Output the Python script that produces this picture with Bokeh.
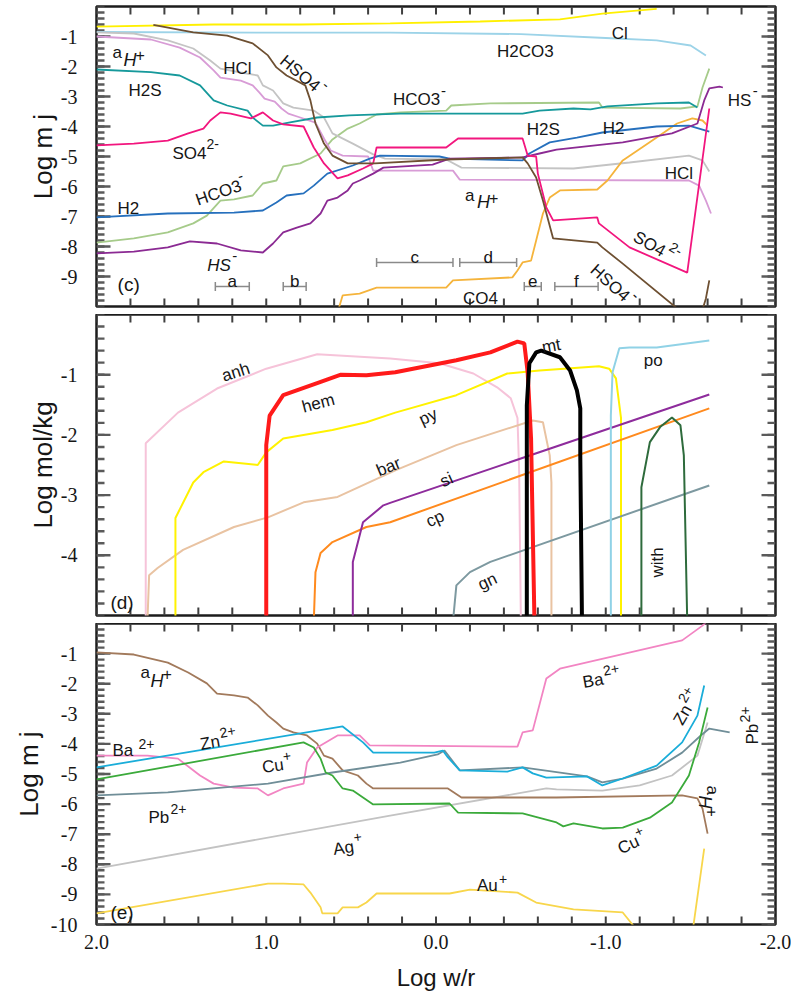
import math
from bokeh.plotting import figure
from bokeh.layouts import column
from bokeh.models import FixedTicker, LinearAxis, NumeralTickFormatter, Range1d
from bokeh.core.properties import value
from bokeh.embed import file_html
from bokeh.resources import INLINE

nan = float("nan")

# ---------------- panel (c): Log m_j of aqueous species ----------------
c_cl_x = [2.0, 1.31, 0.8, 0.27, -0.26, -0.73, -0.98, -1.3]
c_cl_y = [-0.67, -0.6, -0.6, -0.56, -0.5, -0.43, -0.24, -0.08]

c_h2co3_x = [2.0, 1.0, 0.27, -0.5, -1.0, -1.3, -1.5, -1.59]
c_h2co3_y = [-0.85, -0.87, -0.87, -0.92, -1.05, -1.13, -1.3, -1.63]

c_ah_x = [2.0, 1.68, 1.51, 1.39, 1.31, 1.27, 1.15, 1.08, 1.04, 1.01, 0.95, 0.91, 0.87, 0.8, 0.71,
          0.66, 0.62, 0.55, 0.4, 0.37, -0.1, -0.14, -1.49, -1.55, -1.59, -1.62]
c_ah_y = [-1.0, -1.1, -1.37, -1.7, -2.13, -2.37, -2.47, -2.63, -2.87, -3.07, -3.17, -3.4, -3.57, -3.7, -3.87,
          -4.4, -4.8, -4.97, -5.0, -5.47, -5.47, -5.77, -5.8, -5.97, -6.47, -6.9]

c_hcl_x = [2.0, 1.78, 1.58, 1.43, 1.33, 1.27, 1.15, 1.05, 1.02, 0.96, 0.9, 0.84, 0.72, 0.66, 0.61,
           0.49, 0.37, 0.3, -0.06, -0.15, -0.81, -1.14, -1.49, -1.57, -1.61]
c_hcl_y = [-0.86, -0.9, -1.13, -1.4, -1.8, -2.07, -2.2, -2.3, -2.63, -2.8, -3.23, -3.37, -3.47, -3.7, -4.23,
           -4.57, -4.93, -5.07, -5.1, -5.37, -5.4, -5.2, -4.97, -5.13, -5.5]

c_hso4_x = [1.665, 1.43, 1.23, 1.08, 0.99, 0.94, 0.88, 0.77, 0.74, 0.71, 0.66, 0.61, 0.52, 0.36, -0.06,
            -0.51, -0.54, -0.59, -0.63, -0.69, -0.95, -0.98, -1.1, -1.45, nan, -1.565, -1.59, -1.61]
c_hso4_y = [-0.61, -0.86, -0.97, -1.23, -1.63, -2.03, -2.3, -2.63, -3.13, -3.9, -4.57, -4.97, -5.23, -5.23, -5.1,
            -5.03, -5.23, -5.7, -6.47, -7.73, -7.87, -8.03, -8.57, -10.2, nan, -10.2, -9.73, -9.13]

c_h2s_x = [2.0, 1.68, 1.51, 1.39, 1.31, 1.23, 1.11, 1.08, 1.02, 0.96, 0.86, 0.7, 0.51, 0.21, -0.51,
           -0.61, -0.81, -0.91, -1.01, -1.3, -1.49, -1.54]
c_h2s_y = [-2.1, -2.19, -2.3, -2.63, -3.13, -3.3, -3.47, -3.7, -3.97, -3.97, -3.86, -3.7, -3.63, -3.57, -3.57,
           -3.47, -3.4, -3.43, -3.33, -3.23, -3.2, -3.37]

c_so4_x = [2.0, 1.78, 1.58, 1.46, 1.37, 1.33, 1.27, 1.21, 1.09, 1.02, 0.96, 0.9, 0.78, 0.72, 0.66, 0.58,
           0.52, 0.43, 0.37, 0.35, -0.06, -0.13, -0.51, -0.54, -0.59, -0.6, -0.65, -0.69, -0.95, -0.96,
           -1.14, -1.48, -1.61]
c_so4_y = [-4.63, -4.57, -4.47, -4.23, -4.07, -3.8, -3.53, -3.57, -3.73, -3.53, -3.8, -3.93, -4.0, -4.7, -5.23,
           -5.73, -5.63, -5.4, -5.23, -4.7, -4.7, -4.4, -4.4, -4.97, -5.0, -5.57, -6.7, -7.13, -7.03, -7.23,
           -8.03, -8.87, -3.4]

c_hco3_x = [2.0, 1.78, 1.58, 1.43, 1.35, 1.27, 1.19, 1.08, 1.02, 0.94, 0.9, 0.8, 0.68, 0.61, 0.52, 0.45,
            0.35, 0.21, -0.06, -0.09, -0.32, -0.96, -0.98, -1.44, -1.54, -1.57, -1.61]
c_hco3_y = [-7.87, -7.73, -7.53, -7.23, -6.97, -6.47, -6.43, -6.3, -5.9, -5.8, -5.33, -5.23, -4.9, -4.43,
            -4.07, -3.9, -3.6, -3.53, -3.47, -3.3, -3.23, -3.2, -3.37, -3.4, -3.33, -2.7, -2.07]

c_h2_x = [2.0, 1.58, 1.19, 1.02, 0.94, 0.88, 0.78, 0.72, 0.64, 0.49, 0.39, 0.33, -0.02, -0.08, -0.51,
          -0.55, -0.67, -0.83, -0.98, -1.3, -1.49, -1.61]
c_h2_y = [-7.03, -6.9, -6.87, -6.8, -6.53, -6.3, -6.23, -5.97, -5.57, -5.3, -5.07, -4.97, -5.0, -5.07, -5.13,
          -4.9, -4.53, -4.37, -4.2, -4.0, -3.97, -4.17]

c_hs_x = [2.0, 1.78, 1.58, 1.45, 1.29, 1.15, 1.02, 0.96, 0.9, 0.82, 0.74, 0.68, 0.64, 0.58, 0.52, 0.49,
          0.45, 0.37, 0.31, 0.02, -0.08, -0.51, -0.61, -0.71, -1.1, -1.39, -1.54, -1.58, -1.61, -1.67, -1.69]
c_hs_y = [-8.23, -8.17, -8.03, -7.83, -7.9, -8.13, -8.2, -7.9, -7.53, -7.37, -7.23, -6.9, -6.47, -6.37,
          -6.13, -5.9, -5.8, -5.57, -5.37, -5.27, -5.07, -5.03, -4.9, -4.77, -4.53, -4.23, -3.9, -3.13,
          -2.73, -2.67, -2.7]

c_co4_x = [0.58, 0.55, 0.45, 0.35, -0.06, -0.1, -0.45, -0.48, -0.51, -0.56, -0.59, -0.63, -0.67, -0.73,
           -0.95, -1.01, -1.1, -1.3, -1.42, -1.51, -1.57, -1.6]
c_co4_y = [-10.2, -9.63, -9.57, -9.37, -9.37, -9.13, -9.03, -8.8, -8.53, -8.47, -7.8, -6.9, -6.37, -6.13,
           -6.1, -5.8, -5.13, -4.37, -3.9, -3.73, -3.8, -3.97]

interval_names = ["a", "b", "c", "d", "e", "f"]
interval_start = [1.3, 0.9, 0.35, -0.14, -0.52, -0.70]
interval_end = [1.1, 0.765, -0.1, -0.475, -0.62, -0.955]
interval_level = [-9.33, -9.33, -8.53, -8.53, -9.33, -9.33]

# ---------------- panel (d): Log mol/kg of minerals ----------------
d_anh_x = [1.71, 1.71, 1.52, 1.29, 1.0, 0.7, 0.27, -0.02, -0.22, -0.36, -0.44, -0.48, -0.49, -0.5]
d_anh_y = [-5.1, -2.14, -1.63, -1.23, -0.9, -0.66, -0.73, -0.81, -0.98, -1.21, -1.39, -1.72, -2.62, -5.1]

d_hem_x = [1.0, 1.0, 0.98, 0.9, 0.7, 0.56, 0.41, 0.24, -0.12, -0.32, -0.48, -0.52, -0.54, -0.56, -0.58]
d_hem_y = [-5.1, -2.17, -1.68, -1.34, -1.14, -1.0, -1.01, -0.96, -0.76, -0.63, -0.45, -0.48, -0.96, -2.06, -5.1]

d_py_x = [1.535, 1.535, 1.43, 1.37, 1.25, 1.05, 1.0, 0.9, 0.61, 0.41, 0.24, -0.12, -0.42, -0.61, -0.96,
          -1.02, -1.06, -1.09, -1.09]
d_py_y = [-5.1, -3.38, -2.79, -2.62, -2.44, -2.5, -2.29, -2.06, -1.92, -1.79, -1.63, -1.34, -0.98, -0.93,
          -0.86, -0.9, -1.06, -1.72, -5.1]

d_bar_x = [1.7, 1.69, 1.64, 1.49, 1.19, 0.99, 0.78, 0.58, 0.24, -0.12, -0.57, -0.63, -0.67, -0.68, -0.68]
d_bar_y = [-5.1, -4.33, -4.21, -3.91, -3.53, -3.37, -3.12, -3.03, -2.59, -2.17, -1.76, -1.79, -2.34, -2.79, -5.1]

d_si_x = [0.49, 0.49, 0.43, 0.31, 0.27, -1.61]
d_si_y = [-5.1, -4.11, -3.45, -3.17, -3.13, -1.33]

d_cp_x = [0.72, 0.71, 0.68, 0.61, 0.41, 0.27, -1.61]
d_cp_y = [-5.1, -4.28, -3.96, -3.78, -3.53, -3.45, -1.56]

d_gn_x = [-0.1, -0.12, -0.2, -0.32, -1.61]
d_gn_y = [-5.1, -4.5, -4.28, -4.11, -2.84]

d_mt_x = [-0.535, -0.535, -0.55, -0.59, -0.62, -0.73, -0.79, -0.83, -0.85, -0.85, -0.86]
d_mt_y = [-5.1, -1.51, -0.81, -0.63, -0.6, -0.71, -0.93, -1.26, -1.56, -2.34, -5.1]

d_po_x = [-1.03, -1.03, -1.04, -1.08, -1.14, -1.3, -1.61]
d_po_y = [-5.1, -1.68, -0.96, -0.56, -0.55, -0.55, -0.43]

d_with_x = [-1.21, -1.21, -1.26, -1.32, -1.39, -1.44, -1.46, -1.48]
d_with_y = [-5.1, -2.87, -2.12, -1.87, -1.71, -1.84, -2.34, -5.1]

# ---------------- panel (e): Log m_j of metal ions ----------------
e_ah_x = [2.0, 1.78, 1.58, 1.46, 1.35, 1.29, 1.19, 1.11, 1.05, 0.99, 0.94, 0.9, 0.84, 0.76, 0.7, 0.66,
          0.61, 0.55, 0.46, 0.41, 0.37, -0.07, -0.15, -0.71, -1.45, -1.54, -1.57, -1.6]
e_ah_y = [-0.96, -1.03, -1.3, -1.63, -1.99, -2.33, -2.39, -2.46, -2.72, -3.06, -3.29, -3.49, -3.62, -3.72,
          -3.99, -4.39, -4.49, -4.88, -5.05, -5.32, -5.48, -5.48, -5.78, -5.78, -5.71, -5.81, -6.15, -6.98]

e_ba_x = [2.0, 1.7, 1.52, 1.39, 1.31, 1.19, 1.05, 0.99, 0.9, 0.78, 0.76, 0.7, 0.58, 0.45, 0.39, -0.48,
          -0.51, -0.57, -0.65, -0.73, -1.45, -1.57, -1.62]
e_ba_y = [-4.39, -4.39, -4.49, -5.05, -5.32, -5.45, -5.48, -5.71, -5.48, -5.32, -4.62, -4.12, -3.72, -3.72,
          -4.05, -4.09, -3.62, -3.55, -1.83, -1.5, -0.56, -0.07, 0.2]

e_zn_x = [2.0, 0.55, 0.43, 0.37, 0.01, -0.04, -0.07, -0.14, -0.42, -0.51, -0.57, -0.65, -0.89, -0.98,
          -1.1, -1.3, -1.45, -1.54, -1.58]
e_zn_y = [-4.78, -3.42, -3.95, -4.29, -4.29, -4.22, -4.45, -4.88, -4.92, -4.78, -4.98, -5.12, -5.08, -5.38,
          -5.15, -4.72, -3.95, -3.06, -2.06]

e_cu_x = [2.0, 0.78, 0.72, 0.68, 0.65, 0.61, 0.55, 0.49, 0.43, 0.37, -0.08, -0.13, -0.51, -0.71, -0.75,
          -0.81, -0.98, -1.1, -1.26, -1.39, -1.49, -1.55, -1.6]
e_cu_y = [-5.18, -3.95, -4.12, -4.49, -4.95, -5.05, -5.48, -5.55, -5.78, -6.01, -5.98, -6.28, -6.31, -6.61,
          -6.74, -6.64, -6.81, -6.78, -6.45, -5.95, -5.05, -3.95, -2.79]

e_pb_x = [2.0, 1.58, 0.99, 0.61, 0.21, -0.01, -0.05, -0.14, -0.51, -0.89, -0.98, -1.1, -1.3, -1.45,
          -1.56, -1.61, -1.73]
e_pb_y = [-5.71, -5.61, -5.32, -4.95, -4.62, -4.35, -4.22, -4.88, -4.78, -5.08, -5.28, -5.15, -4.82, -4.29,
          -3.72, -3.49, -3.62]

e_ag_x = [2.0, 0.27, -0.65, -0.71, -0.98, -1.2, -1.39, -1.54, -1.6]
e_ag_y = [-8.14, -6.38, -5.48, -5.51, -5.55, -5.38, -5.05, -4.39, -3.29]

e_au_x = [2.0, 0.99, 0.9, 0.78, 0.74, 0.68, 0.67, 0.58, 0.55, 0.46, 0.41, 0.35, -0.08, -0.2, -0.48,
          -0.59, -0.81, -1.1, -1.2, nan, -1.51, -1.58]
e_au_y = [-9.63, -8.64, -8.64, -8.67, -8.94, -9.43, -9.63, -9.63, -9.43, -9.43, -9.27, -8.97, -8.97, -8.84,
          -8.94, -9.27, -9.5, -9.6, -10.3, nan, -10.3, -7.48]

# axis ticks
X_LEFT, X_RIGHT = 2.0, -2.0
x_major = [2.0, 1.0, 0.0, -1.0, -2.0]
x_minor = [round(-2.0 + 0.2 * i, 2) for i in range(21)]
c_y_major = [-1, -2, -3, -4, -5, -6, -7, -8, -9]
d_y_major = [-1, -2, -3, -4]
e_y_major = [-1, -2, -3, -4, -5, -6, -7, -8, -9, -10]
c_y_minor = [round(-10 + 0.2 * i, 2) for i in range(51)]
d_y_minor = [round(-5 + 0.2 * i, 2) for i in range(26)]

# ---------------- styling helpers ----------------
SANS = "Liberation Sans"
SERIF = "Liberation Serif"
TICK_GRAY = "#5a5a5a"
XTICK = "#404040"
TXT = "#161616"
FRAME_W = 679


def bare_axis(ax):
    ax.axis_line_color = None
    ax.major_tick_in = 0
    ax.major_tick_out = 0
    ax.minor_tick_line_color = None
    ax.major_tick_line_color = None
    ax.major_label_text_font = SERIF
    ax.major_label_text_font_size = "20px"
    ax.major_label_text_color = TXT
    ax.axis_label_text_font = SANS
    ax.axis_label_text_font_style = "normal"
    ax.axis_label_text_color = TXT


def inner_ticks(p, ymin, frame_h, y_major, y_minor):
    # tick lengths converted from pixels to data units of the panel
    px_x = (X_LEFT - X_RIGHT) / FRAME_W
    px_y = (0.0 - ymin) / frame_h
    for ticks, ln in ((y_minor, 8), (y_major, 14)):
        n = len(ticks)
        p.segment(x0=[X_LEFT] * n, y0=ticks, x1=[X_LEFT - ln * px_x] * n, y1=ticks,
                  line_color=TICK_GRAY, line_width=2.4)
        p.segment(x0=[X_RIGHT] * n, y0=ticks, x1=[X_RIGHT + ln * px_x] * n, y1=ticks,
                  line_color=TICK_GRAY, line_width=2.4)
    n = len(x_minor)
    p.segment(x0=x_minor, y0=[0.0] * n, x1=x_minor, y1=[-8 * px_y] * n, line_color=XTICK, line_width=2)
    p.segment(x0=x_minor, y0=[ymin] * n, x1=x_minor, y1=[ymin + 8 * px_y] * n, line_color=XTICK,
              line_width=2)


def make_panel(ymin, frame_h, y_major, y_minor, ylabel, top_b, bot_b, lab_standoff, bottom_labels=False):
    p = figure(frame_width=FRAME_W, frame_height=frame_h, x_range=Range1d(X_LEFT, X_RIGHT),
               y_range=Range1d(ymin, 0.0), output_backend="svg", toolbar_location=None,
               x_axis_location=None, y_axis_location=None,
               min_border_left=96, min_border_right=16, min_border_top=top_b, min_border_bottom=bot_b)
    p.xgrid.grid_line_color = None
    p.ygrid.grid_line_color = None
    p.outline_line_color = "#1c1c1c"
    p.outline_line_width = 2.5

    left = LinearAxis(ticker=FixedTicker(ticks=y_major), axis_label=ylabel,
                      formatter=NumeralTickFormatter(format="0"))
    bare_axis(left)
    left.major_label_standoff = 19
    left.axis_label_standoff = lab_standoff
    left.axis_label_text_font_size = "26px"
    p.add_layout(left, "left")

    if bottom_labels:
        bottom = LinearAxis(ticker=FixedTicker(ticks=x_major), axis_label="Log w/r",
                            formatter=NumeralTickFormatter(format="0.0"))
        bare_axis(bottom)
        bottom.major_label_standoff = 10
        bottom.axis_label_standoff = 12
        bottom.axis_label_text_font_size = "24px"
        p.add_layout(bottom, "below")

    inner_ticks(p, ymin, frame_h, y_major, y_minor)
    return p


def add_label(p, x, y, parts, angle=0.0):
    a = math.radians(angle)
    for part in parts:
        txt, dx, dy, size = part[0], part[1], part[2], part[3]
        style = part[4] if len(part) > 4 else "normal"
        ox = dx * math.cos(a) - dy * math.sin(a)
        oy = -(dx * math.sin(a) + dy * math.cos(a))
        p.text(x=[x], y=[y], text=[txt], x_offset=ox, y_offset=oy, angle=a,
               text_font=value(SANS), text_font_size=f"{size}px", text_font_style=style,
               text_align="left", text_baseline="alphabetic", text_color=TXT)


# ---------------- panel (c) ----------------
pc = make_panel(-10.0, 300, c_y_major, c_y_minor, "Log m j", 6, 8, 0)
LW = 1.8
pc.line(c_hco3_x, c_hco3_y, line_color="#a6cb8a", line_width=LW)
pc.line(c_h2co3_x, c_h2co3_y, line_color="#9cd3e8", line_width=LW)
pc.line(c_cl_x, c_cl_y, line_color="#fff000", line_width=LW)
pc.line(c_ah_x, c_ah_y, line_color="#d89cd6", line_width=LW)
pc.line(c_hcl_x, c_hcl_y, line_color="#c4c4c4", line_width=LW)
pc.line(c_h2s_x, c_h2s_y, line_color="#16999b", line_width=LW)
pc.line(c_co4_x, c_co4_y, line_color="#f5b43c", line_width=LW)
pc.line(c_h2_x, c_h2_y, line_color="#2670bd", line_width=LW)
pc.line(c_hs_x, c_hs_y, line_color="#8b2a93", line_width=LW)
pc.line(c_so4_x, c_so4_y, line_color="#f2167e", line_width=LW)
pc.line(c_hso4_x, c_hso4_y, line_color="#6e5032", line_width=LW)

pc.segment(x0=interval_start, y0=interval_level, x1=interval_end, y1=interval_level,
           line_color="#8a8a8a", line_width=1.5)
pc.scatter(x=interval_start + interval_end, y=interval_level + interval_level, marker="dash",
           angle=math.pi / 2, size=9, line_color="#8a8a8a", line_width=1.5)
pc.text(x=[(s + e) / 2 for s, e in zip(interval_start, interval_end)], y=interval_level,
        text=interval_names, text_align="center", text_baseline="alphabetic", y_offset=-5,
        text_font=value(SANS), text_font_size="17px", text_color=TXT)

add_label(pc, 1.906, -1.533, [("a", 0, 0, 17), ("H", 11, -8, 18, "italic"), ("+", 23, -3, 16)])
add_label(pc, 1.253, -2.067, [("HCl", 0, 0, 17)])
add_label(pc, 0.906, -1.733, [("HSO4", 0, 0, 17), ("-", 48, 8, 15)], -40)
add_label(pc, 1.812, -2.8, [("H2S", 0, 0, 17)])
add_label(pc, 1.553, -4.9, [("SO4", 0, 0, 17), ("2-", 34, 10, 14)])
add_label(pc, 1.412, -6.467, [("HCO3", 0, 0, 17), ("-", 47, 9, 15)], 19)
add_label(pc, 1.876, -6.733, [("H2", 0, 0, 17)])
add_label(pc, 1.347, -8.633, [("HS", 0, 0, 17, "italic"), ("-", 25, 9, 15)])
add_label(pc, 1.876, -9.27, [("(c)", 0, 0, 19)])
add_label(pc, 0.253, -3.1, [("HCO3", 0, 0, 17), ("-", 48, 9, 15)])
add_label(pc, -0.359, -1.5, [("H2CO3", 0, 0, 17)])
add_label(pc, -1.035, -0.9, [("Cl", 0, 0, 17)])
add_label(pc, -1.718, -3.133, [("HS", 0, 0, 17), ("-", 25, 9, 15)])
add_label(pc, -0.535, -4.1, [("H2S", 0, 0, 17)])
add_label(pc, -0.982, -4.067, [("H2", 0, 0, 17)])
add_label(pc, -1.347, -5.567, [("HCl", 0, 0, 17)])
add_label(pc, -0.171, -6.3, [("a", 0, 0, 17), ("H", 12, -6, 18, "italic"), ("+", 24, -2, 16)])
add_label(pc, -1.171, -7.633, [("SO4", 0, 0, 17), ("2-", 36, 9, 14)], -30)
add_label(pc, -0.924, -8.7, [("HSO4", 0, 0, 17), ("-", 48, 8, 15)], -42)
add_label(pc, -0.159, -9.733, [("CO4", 0, 0, 17)])

# ---------------- panel (d) ----------------
pd = make_panel(-5.0, 301, d_y_major, d_y_minor, "Log mol/kg", 0, 8, 0)
pd.line(d_anh_x, d_anh_y, line_color="#f6c3d9", line_width=2)
pd.line(d_bar_x, d_bar_y, line_color="#e9c3a2", line_width=2)
pd.line(d_py_x, d_py_y, line_color="#fff200", line_width=2)
pd.line(d_gn_x, d_gn_y, line_color="#7d99a0", line_width=2)
pd.line(d_cp_x, d_cp_y, line_color="#ff8a1e", line_width=2)
pd.line(d_si_x, d_si_y, line_color="#8e2c9c", line_width=2)
pd.line(d_po_x, d_po_y, line_color="#90d2e6", line_width=2)
pd.line(d_with_x, d_with_y, line_color="#2e6b3c", line_width=2)
pd.line(d_hem_x, d_hem_y, line_color="#ff1a1a", line_width=4)
pd.line(d_mt_x, d_mt_y, line_color="#000000", line_width=4)

add_label(pd, 1.259, -1.03, [("anh", 0, 0, 17)], 18)
add_label(pd, 0.788, -1.545, [("hem", 0, 0, 17)], 15)
add_label(pd, 0.094, -1.761, [("py", 0, 0, 17)], 25)
add_label(pd, 0.347, -2.608, [("bar", 0, 0, 17)], 22)
add_label(pd, -0.029, -2.79, [("si", 0, 0, 17)], 25)
add_label(pd, 0.053, -3.455, [("cp", 0, 0, 17)], 25)
add_label(pd, -0.253, -4.502, [("gn", 0, 0, 17)], 25)
add_label(pd, -0.624, -0.548, [("mt", 0, 0, 17)], 10)
add_label(pd, -1.224, -0.764, [("po", 0, 0, 17)])
add_label(pd, -1.306, -4.369, [("with", 0, 0, 17)], 90)
add_label(pd, 1.918, -4.784, [("(d)", 0, 0, 19)])

# ---------------- panel (e) ----------------
pe = make_panel(-10.0, 301, e_y_major, c_y_minor, "Log m j", 0, 66, 4, bottom_labels=True)
pe.line(e_au_x, e_au_y, line_color="#f8d64b", line_width=LW)
pe.line(e_ag_x, e_ag_y, line_color="#c3c3c3", line_width=LW)
pe.line(e_ah_x, e_ah_y, line_color="#a27a5c", line_width=LW)
pe.line(e_ba_x, e_ba_y, line_color="#f285c3", line_width=LW)
pe.line(e_pb_x, e_pb_y, line_color="#708e98", line_width=LW)
pe.line(e_cu_x, e_cu_y, line_color="#3baa3b", line_width=LW)
pe.line(e_zn_x, e_zn_y, line_color="#1aadd9", line_width=LW)

add_label(pe, 1.741, -1.628, [("a", 0, 0, 17), ("H", 10, -8, 18, "italic"), ("+", 22, -1, 16)])
add_label(pe, 1.906, -4.219, [("Ba", 0, 0, 17), ("2+", 26, 6, 14)])
add_label(pe, 1.388, -4.02, [("Zn", 0, 0, 17), ("2+", 21, 8, 14)], 10)
add_label(pe, 1.024, -4.784, [("Cu", 0, 0, 17), ("+", 22, 8, 14)], 8)
add_label(pe, 1.694, -6.445, [("Pb", 0, 0, 17), ("2+", 22, 8, 14)])
add_label(pe, 0.606, -7.508, [("Ag", 0, 0, 17), ("+", 22, 9, 14)], 8)
add_label(pe, -0.241, -8.704, [("Au", 0, 0, 17), ("+", 22, 6, 14)])
add_label(pe, -0.865, -1.96, [("Ba", 0, 0, 17), ("2+", 22, 8, 14)], 10)
add_label(pe, -1.424, -3.322, [("Zn", 0, 0, 17), ("2+", 21, 8, 14)], 60)
add_label(pe, -1.865, -4.02, [("Pb", 0, 0, 17), ("2+", 22, 8, 14)], 90)
add_label(pe, -1.629, -5.382, [("a", 0, 0, 17), ("H", 10, -8, 18, "italic"), ("+", 22, -1, 16)], -90)
add_label(pe, -1.076, -7.508, [("Cu", 0, 0, 17), ("+", 22, 8, 14)], 25)
add_label(pe, 1.918, -9.6, [("(e)", 0, 0, 19)])

layout = column(pc, pd, pe, spacing=0)
open("out.html", "w").write(file_html(layout, INLINE))
